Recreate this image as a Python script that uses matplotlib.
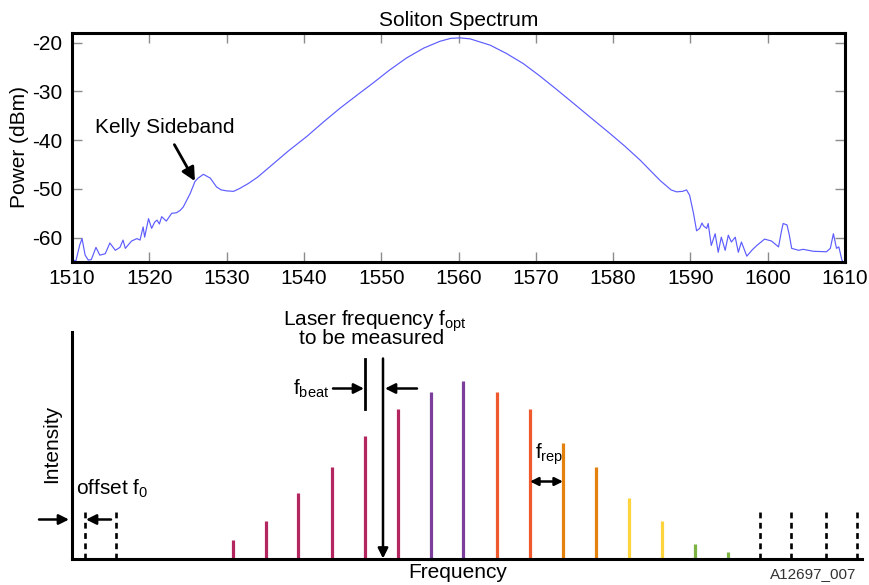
import matplotlib
matplotlib.use("Agg")
import matplotlib.pyplot as plt

plt.rcParams['font.family'] = ['Liberation Sans', 'DejaVu Sans']
plt.rcParams['mathtext.fontset'] = 'custom'
plt.rcParams['mathtext.rm'] = 'Liberation Sans'
plt.rcParams['mathtext.it'] = 'Liberation Sans:italic'
plt.rcParams['axes.unicode_minus'] = False

# ---- measured soliton spectrum (nm, dBm) ----
wavelength = [
    1510.0, 1510.5, 1511.0, 1511.3, 1511.7, 1512.1, 1512.5, 1513.1, 1513.6, 1514.3,
    1514.9, 1515.6, 1516.2, 1516.6, 1516.9, 1517.7, 1518.4, 1518.8, 1519.2, 1519.4,
    1519.9, 1520.3, 1520.7, 1521.0, 1521.3, 1521.6, 1522.2, 1522.9, 1523.5, 1524.0,
    1524.4, 1525.3, 1525.9, 1526.3, 1527.0, 1527.9, 1528.7, 1529.3, 1530.0, 1530.9,
    1531.7, 1532.8, 1534.0, 1536.0, 1538.0, 1540.4, 1542.5, 1544.7, 1547.0, 1549.0,
    1551.0, 1553.3, 1555.5, 1557.6, 1559.0, 1560.2, 1561.5, 1564.1, 1566.2, 1568.4,
    1570.5, 1572.7, 1575.0, 1577.2, 1579.5, 1581.5, 1583.5, 1586.1, 1587.5, 1588.2,
    1589.0, 1589.5, 1589.9, 1590.4, 1590.8, 1591.2, 1591.5, 1591.7, 1592.1, 1592.3,
    1592.7, 1593.2, 1593.6, 1594.0, 1594.5, 1594.9, 1595.3, 1595.8, 1596.2, 1596.6,
    1597.3, 1598.0, 1598.6, 1599.6, 1600.5, 1601.4, 1601.8, 1602.0, 1602.5, 1602.8,
    1603.1, 1604.0, 1604.6, 1605.9, 1607.6, 1608.1, 1608.5, 1608.9, 1609.2, 1609.6,
    1610.0,
]
power_dbm = [
    -64.5, -64.8, -61.5, -60.2, -63.6, -64.6, -64.5, -62.0, -63.6, -63.3,
    -61.1, -62.6, -62.0, -60.5, -62.2, -60.7, -60.2, -60.5, -57.8, -59.9,
    -56.1, -58.1, -56.8, -56.4, -57.2, -55.7, -56.6, -55.0, -54.9, -54.4,
    -53.7, -50.9, -48.5, -47.8, -47.0, -47.8, -49.6, -50.2, -50.4, -50.5,
    -49.9, -48.9, -47.6, -44.9, -42.2, -39.2, -36.3, -33.4, -30.6, -28.2,
    -25.7, -23.1, -21.1, -19.7, -19.1, -19.0, -19.2, -20.5, -22.2, -24.3,
    -26.8, -29.6, -32.6, -35.5, -38.5, -41.2, -44.1, -48.3, -50.2, -50.6,
    -50.5, -50.2, -51.3, -55.0, -58.6, -58.1, -57.0, -57.6, -58.1, -57.1,
    -61.6, -59.2, -63.0, -59.9, -62.6, -59.5, -60.9, -59.9, -63.0, -60.9,
    -63.8, -62.5, -61.6, -60.3, -60.7, -61.9, -58.5, -57.1, -57.4, -59.5,
    -62.2, -62.6, -62.4, -62.8, -62.9, -62.2, -59.2, -62.2, -61.9, -64.6,
    -65.5,
]
x_ticks = [1510, 1520, 1530, 1540, 1550, 1560, 1570, 1580, 1590, 1600, 1610]
y_ticks = [-60, -50, -40, -30, -20]

# ---- frequency comb schematic (arbitrary units) ----
mode_freq = [161, 194, 226, 260, 293, 326, 359, 391, 425, 458, 491, 524, 557, 590, 623, 656]
mode_intensity = [19, 38, 66, 92, 123, 150, 167, 178, 167, 150, 116, 92, 61, 38, 15, 7]
mode_colors = ['#b3265f'] * 6 + ['#7b3f9b'] * 2 + ['#ee5a2e'] * 2 + \
              ['#e5820e'] * 2 + ['#fdd43c'] * 2 + ['#7cb342'] * 2
offset_lines = [13, 44]
extra_lines = [688, 719, 754, 785]
laser_freq = 311
beat_mode = 293

W, H = 870, 585
fig = plt.figure(figsize=(W / 100, H / 100), dpi=100)


def fx(px):
    return px / W


def fy(py):
    return 1 - py / H


# ================= top: spectrum =================
ax1 = fig.add_axes([fx(72), fy(262), (845 - 72) / W, (262 - 33) / H])
ax1.plot(wavelength, power_dbm, color='#5c5cff', lw=0.85)
ax1.set_xlim(1510, 1610)
ax1.set_ylim(-65, -18)
ax1.set_xticks(x_ticks)
ax1.set_yticks(y_ticks)
ax1.tick_params(direction='in', length=7, width=1, color='#8c8c8c',
                top=True, right=True, labelsize=15, pad=5)
ax1.tick_params(axis='y', pad=7)
for s in ax1.spines.values():
    s.set_linewidth(2.2)
ax1.set_title('Soliton Spectrum', fontsize=15, pad=5)
fig.text(fx(20), fy(147), 'Power (dBm)', rotation=90, ha='center', va='center', fontsize=15)

ax1.annotate('Kelly Sideband', xy=(1525.9, -48.4), xytext=(1522, -37.4),
             ha='center', va='center', fontsize=15,
             arrowprops=dict(arrowstyle='-|>', color='black', lw=2,
                             mutation_scale=20, shrinkA=4, shrinkB=0))

# ================= bottom: comb schematic =================
ax2 = fig.add_axes([fx(72), fy(558.5), (862 - 72) / W, (558.5 - 332) / H])
ax2.set_xlim(0, 790)
ax2.set_ylim(0, 226.5)
for side in ('top', 'right'):
    ax2.spines[side].set_visible(False)
for side in ('left', 'bottom'):
    ax2.spines[side].set_linewidth(2.2)
ax2.set_xticks([])
ax2.set_yticks([])

ax2.vlines(mode_freq, 0, mode_intensity, colors=mode_colors, lw=2.3)
for xv in offset_lines + extra_lines:
    ax2.plot([xv, xv], [0, 50], color='black', lw=1.9, linestyle=(0, (2.2, 1.7)),
             solid_capstyle='butt', dash_capstyle='butt')

arrow_kw = dict(arrowstyle='-|>', color='black', lw=1.8, mutation_scale=15,
                shrinkA=0, shrinkB=0)

# laser line to be measured
ax2.annotate('', xy=(laser_freq, 0), xytext=(laser_freq, 200), arrowprops=arrow_kw,
             annotation_clip=False)
# beat note marker
ax2.plot([beat_mode, beat_mode], [150, 200], color='black', lw=2)
ax2.annotate('', xy=(beat_mode - 1, 170), xytext=(beat_mode - 32, 170),
             arrowprops=arrow_kw, annotation_clip=False)
ax2.annotate('', xy=(laser_freq + 2, 170), xytext=(laser_freq + 34, 170),
             arrowprops=arrow_kw, annotation_clip=False)
ax2.text(beat_mode - 36, 170, r'f$_{\mathrm{beat}}$', ha='right', va='center', fontsize=15)

ax2.text(303, 233, r'Laser frequency f$_{\mathrm{opt}}$', ha='center', va='baseline',
         fontsize=15, clip_on=False)
ax2.text(300, 214, 'to be measured', ha='center', va='baseline', fontsize=15, clip_on=False)

# repetition rate
ax2.annotate('', xy=(mode_freq[10], 77), xytext=(mode_freq[9], 77),
             arrowprops=dict(arrowstyle='<|-|>', color='black', lw=1.8,
                             mutation_scale=12, shrinkA=0, shrinkB=0))
ax2.text(mode_freq[9] + 5, 104, r'f$_{\mathrm{rep}}$', ha='left', va='center', fontsize=15)

# offset frequency
ax2.annotate('', xy=(-3, 39), xytext=(-33, 39), arrowprops=arrow_kw, annotation_clip=False)
ax2.annotate('', xy=(offset_lines[0] + 1, 39), xytext=(offset_lines[1] - 5, 39),
             arrowprops=arrow_kw, annotation_clip=False)
ax2.text(4, 64, r'offset f$_0$', ha='left', va='baseline', fontsize=15)

fig.text(fx(52), fy(444), 'Intensity', rotation=90, ha='center', va='center', fontsize=15)
fig.text(fx(458), fy(573), 'Frequency', ha='center', va='center', fontsize=15)
fig.text(fx(856), fy(574), 'A12697_007', ha='right', va='center', fontsize=11, color='#333333')

fig.savefig('out.png', dpi=100)
